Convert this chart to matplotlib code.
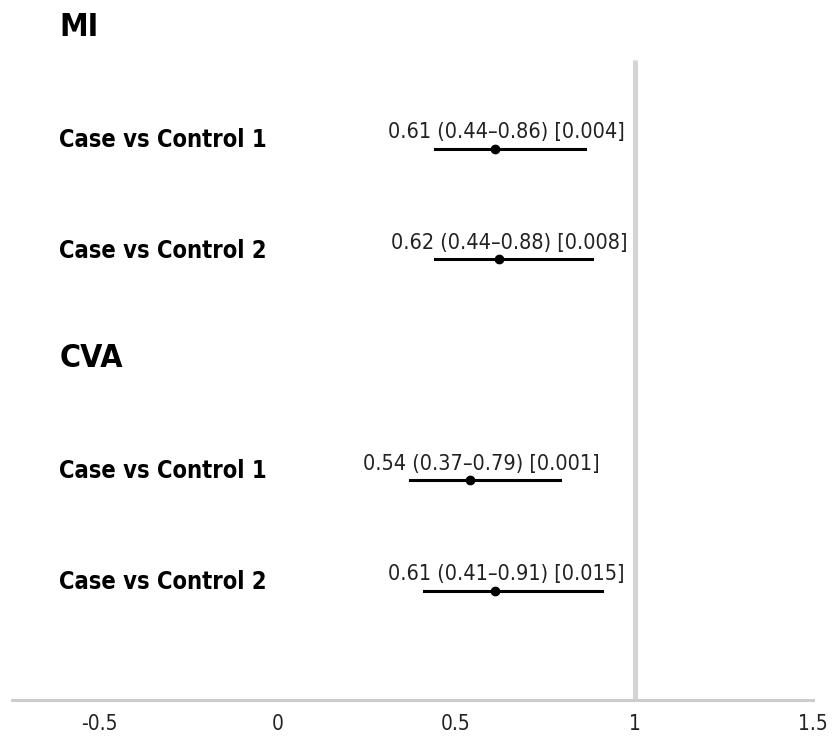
import matplotlib.pyplot as plt

# rows of the forest plot
groups = ["MI", "CVA"]
labels = ["Case vs Control 1", "Case vs Control 2"]
estimates = [[0.61, 0.62], [0.54, 0.61]]
lower = [[0.44, 0.44], [0.37, 0.41]]
upper = [[0.86, 0.88], [0.79, 0.91]]
pvalues = [["0.004", "0.008"], ["0.001", "0.015"]]
xticks = [-0.5, 0, 0.5, 1, 1.5]
xticklabels = ["-0.5", "0", "0.5", "1", "1.5"]

plt.rcParams['font.family'] = ['DejaVu Sans']
plt.rcParams['font.stretch'] = 'condensed'

fig = plt.figure(figsize=(8.37, 7.36), dpi=100)
ax = fig.add_axes([12 / 837, 36 / 736, 801 / 837, 700 / 736])
ax.set_xlim(-0.744, 1.481)
ax.set_ylim(5.99, -0.35)

# reference line at 1
ax.plot([1, 1], [0.19, 5.99], color="#d4d4d4", lw=3.6, solid_capstyle="butt", zorder=1)

label_x = -0.611
row = 0
for g in range(len(groups)):
    ax.text(label_x, row - 0.1, groups[g], fontsize=23, fontweight="bold", va="center", ha="left",
            fontstretch="condensed")
    row += 1
    for i in range(len(labels)):
        ax.text(label_x, row - 0.08, labels[i], fontsize=17, fontweight="bold", va="center", ha="left",
                fontstretch="condensed")
        ax.plot([lower[g][i], upper[g][i]], [row, row], color="black", lw=2.2, zorder=2)
        ax.plot(estimates[g][i], row, "o", color="black", ms=6, zorder=3)
        txt = "%.2f (%.2f\u2013%.2f) [%s]" % (estimates[g][i], lower[g][i], upper[g][i], pvalues[g][i])
        ax.text(estimates[g][i] + 0.03, row - 0.15, txt, fontsize=15.5, ha="center", va="center",
                color="#222222", fontstretch="condensed")
        row += 1

for s in ["top", "right", "left"]:
    ax.spines[s].set_visible(False)
ax.spines["bottom"].set_color("#cccccc")
ax.spines["bottom"].set_linewidth(2.2)
ax.set_yticks([])
ax.set_xticks(xticks)
ax.set_xticklabels(xticklabels, fontsize=15, color="#222222", fontstretch="condensed")
ax.tick_params(axis="x", length=0, pad=10)

fig.savefig("out.png", dpi=100)
